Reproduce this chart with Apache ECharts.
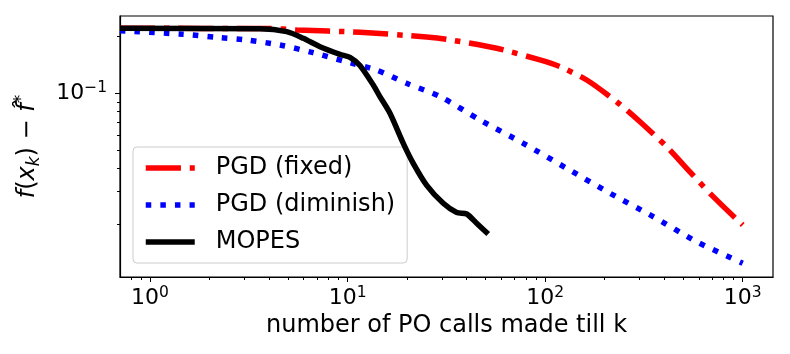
<!DOCTYPE html>
<html>
<head>
<meta charset="utf-8">
<script src="https://cdn.jsdelivr.net/npm/echarts@6/dist/echarts.min.js"></script>
<style>
  html, body { margin: 0; padding: 0; background: #ffffff; }
  #chart { width: 790px; height: 354px; }
</style>
</head>
<body>
<div id="chart"></div>
<script>
// values (log-log axes)
const fixedX = [0.705, 4.05, 5.53, 11.55, 25.1, 31.7, 56.8, 94.1, 118.9, 162.3, 230, 302, 412, 520, 709, 1000]
const fixedY = [0.2215, 0.2213, 0.2171, 0.2111, 0.1993, 0.1937, 0.1735, 0.1504, 0.1385, 0.1177, 0.0902, 0.0706, 0.052, 0.0399, 0.0282, 0.0199]

const diminishX = [0.705, 1.47, 2.18, 3.09, 4.55, 6.7, 9.51, 14.0, 19.9, 29.4, 46.8, 77.5, 128.5, 213, 352, 584, 1000]
const diminishY = [0.2153, 0.206, 0.1986, 0.192, 0.1807, 0.1644, 0.1485, 0.133, 0.113, 0.096, 0.0721, 0.0542, 0.0399, 0.0294, 0.0221, 0.01625, 0.01247]

const mopesX = [0.705, 3.6, 4.92, 5.97, 7.25, 9.15, 10.28, 11.55, 13.49, 14.58, 16.39, 19.14, 21.5, 25.1, 30.5, 35.7, 40.1, 45.0, 51.5]
const mopesY = [0.2215, 0.2205, 0.2127, 0.1961, 0.177, 0.1612, 0.1554, 0.1406, 0.1107, 0.096, 0.0783, 0.0542, 0.0424, 0.0325, 0.026, 0.0232, 0.0228, 0.02035, 0.01786]

const seriesNames = ['PGD (fixed)', 'PGD (diminish)', 'MOPES']

// axis ranges and tick values
const xRange = [0.705, 1423]
const yRange = [0.01054, 0.2577]
const xMajor = [1, 10, 100, 1000]
const xMinor = [0.8, 0.9, 2, 3, 4, 5, 6, 7, 8, 9, 20, 30, 40, 50, 60, 70, 80, 90, 200, 300, 400, 500, 600, 700, 800, 900]
const yMajor = [0.1]
const yMinor = [0.02, 0.03, 0.04, 0.05, 0.06, 0.07, 0.08, 0.09, 0.2]

const FONT = 'DejaVu Sans'

const zip = (xs, ys) => xs.map((x, i) => [x, ys[i]])

const powLabel = (v) => {
  const p = Math.round(Math.log10(v))
  return '{b|10}{s|' + String(p).replace('-', '\u2212') + '}'
}

const labelRich = {
  b: { fontSize: 22, fontFamily: FONT, color: '#000', lineHeight: 26 },
  s: { fontSize: 15.5, fontFamily: FONT, color: '#000', verticalAlign: 'top', lineHeight: 16 }
}

// second axis on the same grid, only for the 2..9 minor ticks
function minorAxis(range, position, values) {
  return {
    type: 'log',
    logBase: 10,
    min: range[0],
    max: range[1],
    position: position,
    axisLine: { show: false },
    axisLabel: { show: false },
    splitLine: { show: false },
    axisTick: { show: true, customValues: values, length: 3, lineStyle: { color: '#000', width: 1 } }
  }
}

const chart = echarts.init(document.getElementById('chart'))

chart.setOption({
  animation: false,
  backgroundColor: '#ffffff',
  grid: {
    left: 120, right: 17, top: 16, bottom: 77,
    show: true, borderColor: '#000', borderWidth: 1.2, backgroundColor: 'transparent'
  },
  legend: {
    data: seriesNames,
    orient: 'vertical',
    left: 133, top: 147,
    padding: [7, 12, 7, 10],
    itemWidth: 49, itemHeight: 14, itemGap: 9,
    backgroundColor: 'rgba(255,255,255,0.8)',
    borderColor: '#cccccc', borderWidth: 1, borderRadius: 4,
    lineStyle: { width: 5.5 },
    itemStyle: { color: 'rgba(0,0,0,0)', borderWidth: 0, opacity: 0 },
    textStyle: { fontSize: 24, fontFamily: FONT, color: '#000', lineHeight: 28, padding: [0, 0, 0, 16] }
  },
  xAxis: [
    {
      type: 'log',
      logBase: 10,
      min: xRange[0],
      max: xRange[1],
      name: 'number of PO calls made till k',
      nameLocation: 'middle',
      nameGap: 37,
      nameTextStyle: { fontSize: 24, fontFamily: FONT, color: '#000' },
      axisLine: { show: true, lineStyle: { color: '#000', width: 1.2 } },
      axisTick: { show: true, customValues: xMajor, length: 5, lineStyle: { color: '#000', width: 1 } },
      axisLabel: { customValues: xMajor, margin: 8, formatter: powLabel, rich: labelRich },
      splitLine: { show: false }
    },
    minorAxis(xRange, 'bottom', xMinor)
  ],
  yAxis: [
    {
      type: 'log',
      logBase: 10,
      min: yRange[0],
      max: yRange[1],
      name: '{i|f}({i|x}{sub|k}) \u2212 {i|f\u0302}{sup|*}',
      nameLocation: 'middle',
      nameRotate: 90,
      nameGap: 77,
      nameTextStyle: {
        fontSize: 24, fontFamily: FONT, color: '#000',
        rich: {
          i: { fontSize: 24, fontFamily: FONT, fontStyle: 'italic', color: '#000', lineHeight: 30 },
          sub: { fontSize: 17, fontFamily: FONT, fontStyle: 'italic', color: '#000', verticalAlign: 'bottom', lineHeight: 17 },
          sup: { fontSize: 17, fontFamily: FONT, color: '#000', verticalAlign: 'top', lineHeight: 17 }
        }
      },
      axisLine: { show: true, lineStyle: { color: '#000', width: 1.2 } },
      axisTick: { show: true, customValues: yMajor, length: 5, lineStyle: { color: '#000', width: 1 } },
      axisLabel: { customValues: yMajor, margin: 13, formatter: powLabel, rich: labelRich },
      splitLine: { show: false }
    },
    minorAxis(yRange, 'left', yMinor)
  ],
  series: [
    {
      name: seriesNames[0],
      type: 'line',
      data: zip(fixedX, fixedY),
      showSymbol: false, symbol: 'none',
      smooth: 0.25,
      clip: true,
      lineStyle: { color: '#ff0000', width: 5.5, type: [35.2, 8.8, 5.5, 8.8], cap: 'butt' },
      itemStyle: { color: '#ff0000' },
      z: 2
    },
    {
      name: seriesNames[1],
      type: 'line',
      data: zip(diminishX, diminishY),
      showSymbol: false, symbol: 'none',
      smooth: 0.25,
      clip: true,
      lineStyle: { color: '#0000ff', width: 5.5, type: [5.5, 9.1], cap: 'butt' },
      itemStyle: { color: '#0000ff' },
      z: 3
    },
    {
      name: seriesNames[2],
      type: 'line',
      data: zip(mopesX, mopesY),
      showSymbol: false, symbol: 'none',
      smooth: 0.25,
      clip: true,
      lineStyle: { color: '#000000', width: 5.5, cap: 'butt', join: 'round' },
      itemStyle: { color: '#000000' },
      z: 4
    }
  ]
})
</script>
</body>
</html>
